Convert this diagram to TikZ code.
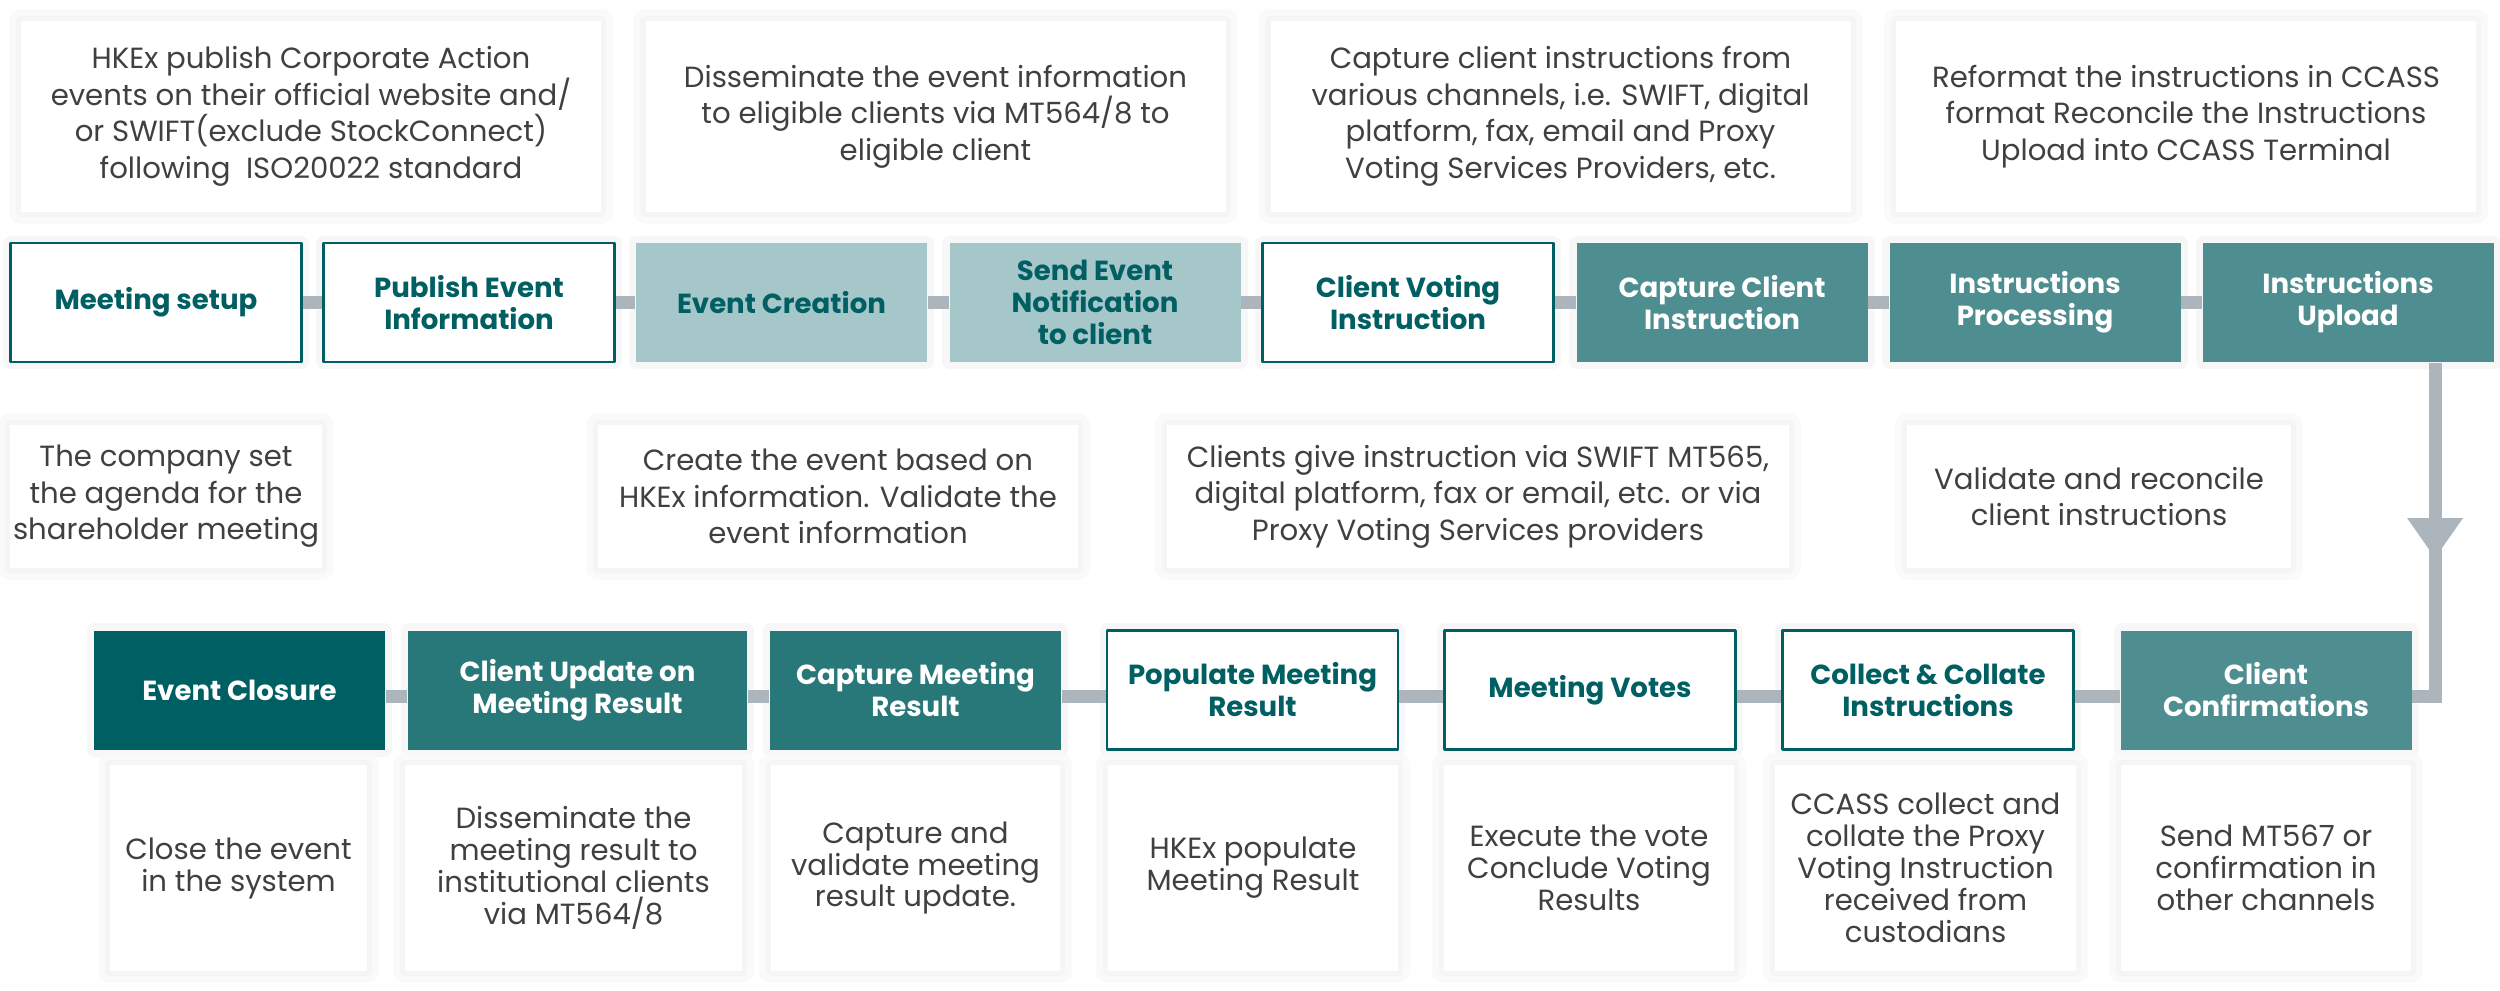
\documentclass[tikz,border=0pt]{standalone}
\usepackage{fontspec}
\setmainfont{Poppins}
\usetikzlibrary{arrows.meta}
\definecolor{tealdark}{HTML}{005F62}
\definecolor{tealdeep}{HTML}{287779}
\definecolor{tealmid}{HTML}{4E8E91}
\definecolor{tealpale}{HTML}{A6C7C9}
\definecolor{bargray}{HTML}{ADB5BC}
\definecolor{notegray}{HTML}{404040}
\tikzset{
  every picture/.style={line join=round, line cap=round, >=Stealth},
  glow/.style={preaction={draw=black!2, line width=7pt}, preaction={draw=black!4, line width=3pt}},
  softglow/.style={preaction={draw=black!3, line width=4pt}},
  note/.style={glow, fill=white, text=notegray, align=center, inner sep=0pt, font=\fontsize{8.3}{10.4}\selectfont},
  lownote/.style={note, minimum height=2.06cm, font=\fontsize{8.3}{9.1}\selectfont},
  stepbox/.style={softglow, align=center, inner sep=0pt, minimum width=2.91cm, minimum height=1.19cm, font=\bfseries\fontsize{7.85}{9.1}\selectfont},
  openstep/.style={stepbox, draw=tealdark, line width=0.6pt, fill=white, text=tealdark},
  palestep/.style={stepbox, fill=tealpale, text=tealdark},
  tealstep/.style={stepbox, fill=tealmid, text=white},
  deepstep/.style={stepbox, fill=tealdeep, text=white},
  darkstep/.style={stepbox, fill=tealdark, text=white},
  bar/.style={draw=bargray, line width=3.7pt, line cap=butt},
}

\begin{document}
\begin{tikzpicture}
\path[use as bounding box](0,0) rectangle (25,-9.9);
\node[note, minimum width=5.8cm, minimum height=1.91cm] (n1) at (3.11,-1.165) {HKEx publish Corporate Action\\events on their official website and/\\or SWIFT(exclude StockConnect)\\following\ \ ISO20022 standard};
\node[note, minimum width=5.8cm, minimum height=1.91cm] (n2) at (9.355,-1.165) {Disseminate the event information\\to eligible clients via MT564/8 to\\eligible client};
\node[note, minimum width=5.8cm, minimum height=1.91cm] (n3) at (15.605,-1.165) {Capture client instructions from\\various channels, i.e. SWIFT, digital\\platform, fax, email and Proxy\\Voting Services Providers, etc.};
\node[note, minimum width=5.8cm, minimum height=1.91cm] (n4) at (21.86,-1.165) {Reformat the instructions in CCASS\\format Reconcile the Instructions\\Upload into CCASS Terminal};

\node[openstep] (b1) at (1.56,-3.025) {Meeting setup};
\node[openstep] (b2) at (4.69,-3.025) {Publish Event\\Information};
\node[palestep] (b3) at (7.815,-3.025) {Event Creation};
\node[palestep] (b4) at (10.95,-3.025) {Send Event\\Notification\\to client};
\node[openstep] (b5) at (14.08,-3.025) {Client Voting\\Instruction};
\node[tealstep] (b6) at (17.22,-3.025) {Capture Client\\Instruction};
\node[tealstep] (b7) at (20.35,-3.025) {Instructions\\Processing};
\node[tealstep] (b8) at (23.48,-3.025) {Instructions\\Upload};
\draw[bar](b1)--(b2) (b2)--(b3) (b3)--(b4) (b4)--(b5)
(b5)--(b6) (b6)--(b7) (b7)--(b8);

\node[note, minimum width=3.12cm, minimum height=1.43cm] (m1) at (1.66,-4.965) {The company set\\the agenda for the\\shareholder meeting};
\node[note, minimum width=4.8cm, minimum height=1.43cm] (m2) at (8.38,-4.965) {Create the event based on\\HKEx information. Validate the\\event information};
\node[note, minimum width=6.22cm, minimum height=1.43cm] (m3) at (14.78,-4.965) {Clients give instruction via SWIFT MT565,\\digital platform, fax or email, etc. or via\\Proxy Voting Services providers};
\node[note, minimum width=3.84cm, minimum height=1.43cm] (m4) at (20.99,-4.965) {Validate and reconcile\\client instructions};

\node[darkstep] (c1) at (2.395,-6.9) {Event Closure};
\node[deepstep, minimum width=3.39cm] (c2) at (5.775,-6.9) {Client Update on\\Meeting Result};
\node[deepstep] (c3) at (9.155,-6.9) {Capture Meeting\\Result};
\node[openstep] (c4) at (12.525,-6.9) {Populate Meeting\\Result};
\node[openstep] (c5) at (15.9,-6.9) {Meeting Votes};
\node[openstep] (c6) at (19.28,-6.9) {Collect \& Collate\\Instructions};
\node[tealstep] (c7) at (22.66,-6.9) {Client\\Confirmations};
\draw[bar]([yshift=-0.065cm]c1.east)--([yshift=-0.065cm]c2.west)
([yshift=-0.065cm]c2.east)--([yshift=-0.065cm]c3.west)
([yshift=-0.065cm]c3.east)--([yshift=-0.065cm]c4.west)
([yshift=-0.065cm]c4.east)--([yshift=-0.065cm]c5.west)
([yshift=-0.065cm]c5.east)--([yshift=-0.065cm]c6.west)
([yshift=-0.065cm]c6.east)--([yshift=-0.065cm]c7.west);

\coordinate (turn) at (24.35,-6.965);
\coordinate (tip) at (24.35,-5.58);
\draw[bar, line join=miter](b8.south -| turn)--(turn)--(c7.east |- turn);
\fill[bargray](tip)--++(-0.28,0.4)--++(0.56,0)--cycle;

\node[lownote, minimum width=2.57cm] (d1) at (2.385,-8.68) {Close the event\\in the system};
\node[lownote, minimum width=3.37cm] (d2) at (5.735,-8.68) {Disseminate the\\meeting result to\\institutional clients\\via MT564/8};
\node[lownote, minimum width=2.89cm] (d3) at (9.155,-8.68) {Capture and\\validate meeting\\result update.};
\node[lownote, minimum width=2.9cm] (d4) at (12.53,-8.68) {HKEx populate\\Meeting Result};
\node[lownote, minimum width=2.9cm] (d5) at (15.89,-8.68) {Execute the vote\\Conclude Voting\\Results};
\node[lownote, minimum width=3.01cm] (d6) at (19.255,-8.68) {CCASS collect and\\collate the Proxy\\Voting Instruction\\received from\\custodians};
\node[lownote, minimum width=2.9cm] (d7) at (22.66,-8.68) {Send MT567 or\\confirmation in\\other channels};
\end{tikzpicture}
\end{document}
